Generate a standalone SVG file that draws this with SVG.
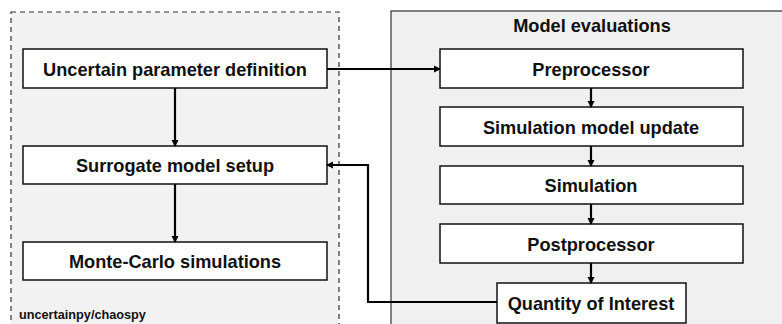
<svg xmlns="http://www.w3.org/2000/svg" width="782" height="324" viewBox="0 0 782 324">
<style>
.box{fill:#fff;stroke:#111;stroke-width:1.5}
.t{font-family:"Liberation Sans",Arial,sans-serif;font-weight:bold;font-size:18.2px;fill:#111;text-anchor:middle}
.c{fill:none;stroke:#000;stroke-width:2.2}
</style>
<defs>
<marker id="ah" markerWidth="8" markerHeight="8" refX="6" refY="4" orient="auto" markerUnits="userSpaceOnUse">
<path d="M0,0.5 L7,4 L0,7.5 Z" fill="#000"/>
</marker>
</defs>
<g id="container-left">
<rect x="11" y="12" width="328" height="330" fill="#f2f2f2" stroke="#333" stroke-width="1.2" stroke-dasharray="5,4"/>
<text x="19" y="319" font-family="Liberation Sans,Arial,sans-serif" font-weight="bold" font-size="12.7" fill="#111">uncertainpy/chaospy</text>
</g>
<g id="container-right">
<rect x="391" y="11" width="400" height="330" fill="#f0f0f0" stroke="#333" stroke-width="1.2"/>
<text class="t" x="592" y="32">Model evaluations</text>
</g>
<g id="n-uncertain"><rect class="box" x="23" y="49" width="304" height="39"/><text class="t" x="175" y="75.5">Uncertain parameter definition</text></g>
<g id="n-surrogate"><rect class="box" x="23" y="146" width="304" height="38"/><text class="t" x="175" y="172">Surrogate model setup</text></g>
<g id="n-montecarlo"><rect class="box" x="23" y="242" width="304" height="38"/><text class="t" x="175" y="268">Monte-Carlo simulations</text></g>
<g id="n-pre"><rect class="box" x="440" y="49" width="303" height="39"/><text class="t" x="591" y="75.5">Preprocessor</text></g>
<g id="n-update"><rect class="box" x="440" y="107" width="303" height="39"/><text class="t" x="591" y="133.5">Simulation model update</text></g>
<g id="n-sim"><rect class="box" x="440" y="166" width="303" height="38"/><text class="t" x="591" y="192">Simulation</text></g>
<g id="n-post"><rect class="box" x="440" y="224" width="303" height="39"/><text class="t" x="591" y="250.5">Postprocessor</text></g>
<g id="n-qoi"><rect class="box" x="497" y="283" width="189" height="40"/><text class="t" x="591" y="310">Quantity of Interest</text></g>
<g id="connectors">
<path class="c" d="M175,88 V146" marker-end="url(#ah)"/>
<path class="c" d="M175,184 V242" marker-end="url(#ah)"/>
<path class="c" d="M327,69 H440" marker-end="url(#ah)"/>
<path class="c" d="M591,88 V107" marker-end="url(#ah)"/>
<path class="c" d="M591,146 V166" marker-end="url(#ah)"/>
<path class="c" d="M591,204 V224" marker-end="url(#ah)"/>
<path class="c" d="M591,263 V283" marker-end="url(#ah)"/>
<path class="c" d="M497,302 H368 V165 H327" marker-end="url(#ah)"/>
</g>
</svg>
